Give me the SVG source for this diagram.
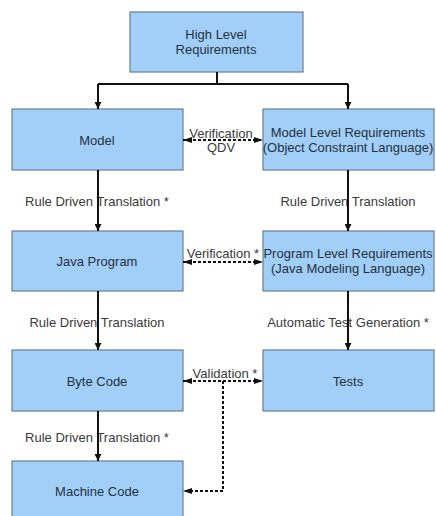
<svg xmlns="http://www.w3.org/2000/svg" width="436" height="516" viewBox="0 0 436 516">
<defs>
<style>
.box{fill:#a2cff7;stroke:#6a7f90;stroke-width:1.2}
.t{font-family:"Liberation Sans",Arial,sans-serif;font-size:13px;fill:#25313d;text-anchor:middle}
.lbl{font-family:"Liberation Sans",Arial,sans-serif;font-size:13px;fill:#3a3a3a;text-anchor:middle}
.c{stroke:#111;stroke-width:2;fill:none}
.d{stroke:#111;stroke-width:2;fill:none;stroke-dasharray:3,2}
</style>
<marker id="ah" viewBox="0 0 10 10" refX="10" refY="5" markerWidth="12" markerHeight="7" markerUnits="userSpaceOnUse" orient="auto-start-reverse">
<path d="M0,0 L10,5 L0,10 Z" fill="#111"/>
</marker>
<marker id="ahs" viewBox="0 0 12 8" refX="12" refY="4" markerWidth="12" markerHeight="6" markerUnits="userSpaceOnUse" orient="auto-start-reverse">
<path d="M0,0 L12,4 L0,8 Z" fill="#111"/>
</marker>
</defs>
<rect width="436" height="516" fill="#fff"/>
<g id="labels">
<text class="lbl" x="97" y="205.5">Rule Driven Translation *</text>
<text class="lbl" x="348" y="205.5">Rule Driven Translation</text>
<text class="lbl" x="97" y="326.5">Rule Driven Translation</text>
<text class="lbl" x="348" y="326.5">Automatic Test Generation *</text>
<text class="lbl" x="97" y="441.5">Rule Driven Translation *</text>
<text class="lbl" x="221" y="137.5">Verification</text>
<text class="lbl" x="221" y="151.5">QDV</text>
<text class="lbl" x="223" y="257.5">Verification *</text>
<text class="lbl" x="225" y="377.5">Validation *</text>
</g>
<g id="n-high"><rect class="box" x="130" y="12" width="173" height="60"/><text class="t" x="216" y="38.5">High Level</text><text class="t" x="216" y="53.5">Requirements</text></g>
<g id="n-model"><rect class="box" x="12" y="109" width="171" height="61"/><text class="t" x="97" y="144.5">Model</text></g>
<g id="n-mlr"><rect class="box" x="263" y="109" width="171" height="61"/><text class="t" x="348" y="136.5">Model Level Requirements</text><text class="t" x="348" y="151.5">(Object Constraint Language)</text></g>
<g id="n-java"><rect class="box" x="12" y="231" width="171" height="60"/><text class="t" x="97" y="265.5">Java Program</text></g>
<g id="n-plr"><rect class="box" x="263" y="231" width="171" height="60"/><text class="t" x="348" y="257.5">Program Level Requirements</text><text class="t" x="348" y="273">(Java Modeling Language)</text></g>
<g id="n-byte"><rect class="box" x="12" y="350" width="171" height="61"/><text class="t" x="97" y="385.5">Byte Code</text></g>
<g id="n-tests"><rect class="box" x="263" y="350" width="171" height="61"/><text class="t" x="348" y="385.5">Tests</text></g>
<g id="n-machine"><rect class="box" x="12" y="461" width="171" height="62"/><text class="t" x="97" y="495.5">Machine Code</text></g>
<g id="connectors">
<path class="c" d="M217,72 V84"/>
<path class="c" d="M98,84 H348"/>
<path class="c" d="M98,84 V109" marker-end="url(#ah)"/>
<path class="c" d="M348,84 V109" marker-end="url(#ah)"/>
<path class="c" d="M98,170 V231" marker-end="url(#ah)"/>
<path class="c" d="M348,170 V231" marker-end="url(#ah)"/>
<path class="c" d="M98,291 V350" marker-end="url(#ah)"/>
<path class="c" d="M348,291 V350" marker-end="url(#ah)"/>
<path class="c" d="M98,411 V461" marker-end="url(#ah)"/>
<path class="d" d="M183,140 H263" marker-start="url(#ahs)" marker-end="url(#ahs)"/>
<path class="d" d="M183,262 H263" marker-start="url(#ahs)" marker-end="url(#ahs)"/>
<path class="d" d="M183,381 H263" marker-start="url(#ahs)" marker-end="url(#ahs)"/>
<path class="d" d="M223,381 V491 H183" marker-end="url(#ahs)"/>
</g>
</svg>
